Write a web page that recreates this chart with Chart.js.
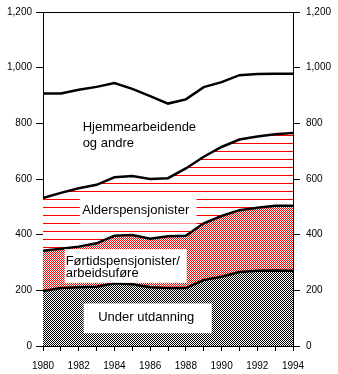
<!DOCTYPE html>
<html>
<head>
<meta charset="utf-8">
<script src="https://cdn.jsdelivr.net/npm/chart.js@4.4.1/dist/chart.umd.min.js"></script>
<style>
body{margin:0;background:#fff;}
#wrap{width:338px;height:374px;}
</style>
</head>
<body>
<div id="wrap"><canvas id="myc" width="338" height="374"></canvas></div>
<script>
// data (stacked, each series is its own layer)
var years = ['1980','1981','1982','1983','1984','1985','1986','1987','1988','1989','1990','1991','1992','1993','1994'];
var underUtdanning      = [198, 208, 211, 213, 225, 222, 211, 208, 208, 237, 249, 266, 270, 271, 270];
var fortidspensjonister = [144, 141, 146, 156, 171, 177, 174, 186, 188, 204, 218, 222, 227, 233, 234];
var alderspensjonister  = [190, 201, 210, 210, 210, 212, 215, 209, 242, 239, 248, 254, 256, 257, 261];
var hjemmearbeidende    = [375, 357, 354, 352, 339, 313, 298, 268, 248, 250, 233, 231, 224, 217, 213];
var yMin = 0, yMax = 1200, yStep = 200;

var FONT = '"Liberation Sans", Arial, sans-serif';

// little pixel patterns like the old mac fills
function checker(color)
{
    var c = document.createElement('canvas');
    c.width = 2; c.height = 2;
    var x = c.getContext('2d');
    x.fillStyle = '#fff'; x.fillRect(0,0,2,2);
    x.fillStyle = color;
    x.fillRect(0,0,1,1);
    x.fillRect(1,1,1,1);
    return x.createPattern(c,'repeat');
}
function hlines(color)
{
    var c = document.createElement('canvas');
    c.width = 8; c.height = 8;
    var x = c.getContext('2d');
    x.fillStyle = '#fff'; x.fillRect(0,0,8,8);
    x.fillStyle = color;
    x.fillRect(0,7,8,1);
    return x.createPattern(c,'repeat');
}

// text boxes, placed in data space (x = year index, y = value)
var boxes = [
    {x0:2.06, x1:8.6,  y0:529, y1:440, lines:['Alderspensjonister'], tx:2.2, ty:[486], align:'left'},
    {x0:1.22, x1:8.05, y0:348, y1:227, lines:['Førtidspensjonister/','arbeidsuføre'], tx:1.27, ty:[305,259], align:'left'},
    {x0:2.28, x1:9.45, y0:153, y1:46,  lines:['Under utdanning'], tx:5.78, ty:[103], align:'center'},
    {lines:['Hjemmearbeidende','og andre'], tx:2.22, ty:[785,728], align:'left'}
];

var labelPlugin = {
    id:'labelboxes',
    afterDatasetsDraw:function(chart){
        var ctx = chart.ctx, xs = chart.scales.x, ys = chart.scales.y;
        ctx.save();
        boxes.forEach(function(b){
            if(b.x0 !== undefined)
            {
                var l = xs.getPixelForValue(b.x0), r = xs.getPixelForValue(b.x1);
                var t = ys.getPixelForValue(b.y0), bt = ys.getPixelForValue(b.y1);
                ctx.fillStyle = '#fff';
                ctx.fillRect(l, t, r-l, bt-t);
            }
            ctx.fillStyle = '#000';
            ctx.font = '13px ' + FONT;
            ctx.textAlign = b.align;
            ctx.textBaseline = 'middle';
            b.lines.forEach(function(s,i){
                ctx.fillText(s, xs.getPixelForValue(b.tx), ys.getPixelForValue(b.ty[i]));
            });
        });
        // top edge of the frame
        var a = chart.chartArea;
        ctx.strokeStyle = '#000';
        ctx.lineWidth = 1;
        ctx.beginPath();
        ctx.moveTo(a.left, Math.round(a.top)+0.5);
        ctx.lineTo(a.right, Math.round(a.top)+0.5);
        ctx.stroke();
        ctx.restore();
    }
};

function yAxis(pos, w, pad)
{
    return {
        position:pos,
        stacked: pos === 'left',
        min:yMin, max:yMax,
        ticks:{stepSize:yStep, color:'#000', padding:pad, font:{family:FONT, size:10},
               callback:function(v){ return v.toLocaleString('en-US'); }},
        grid:{drawOnChartArea:false, color:'#000', tickLength:7},
        border:{color:'#000', width:1},
        afterFit:function(s){ s.width = w; }
    };
}

var common = {pointRadius:0, borderColor:'#000', borderWidth:2.5, tension:0};

var ctx = document.getElementById('myc').getContext('2d');
var myChart = new Chart(ctx, {
    type:'line',
    data:{
        labels:years,
        datasets:[
            Object.assign({label:'Under utdanning', data:underUtdanning, fill:'origin', backgroundColor:checker('#000')}, common),
            Object.assign({label:'Førtidspensjonister/arbeidsuføre', data:fortidspensjonister, fill:'-1', backgroundColor:checker('#ff0000')}, common),
            Object.assign({label:'Alderspensjonister', data:alderspensjonister, fill:'-1', backgroundColor:hlines('#ff0000')}, common),
            Object.assign({label:'Hjemmearbeidende og andre', data:hjemmearbeidende, fill:false, backgroundColor:'#fff'}, common)
        ]
    },
    options:{
        responsive:false,
        animation:false,
        layout:{padding:{top:8, left:0, right:0, bottom:0}},
        plugins:{legend:{display:false}, tooltip:{enabled:false}},
        scales:{
            x:{
                offset:false,
                ticks:{autoSkip:false, maxRotation:0, color:'#000', padding:9, font:{family:FONT, size:10},
                       callback:function(v,i){ return i % 2 === 0 ? years[i] : ''; }},
                grid:{drawOnChartArea:false, color:'#000', tickLength:5, offset:false},
                border:{color:'#000', width:1},
                afterFit:function(s){ s.height = 28; }
            },
            y:yAxis('left', 43, 4),
            y2:yAxis('right', 45, 6)
        }
    },
    plugins:[labelPlugin]
});
</script>
</body>
</html>
